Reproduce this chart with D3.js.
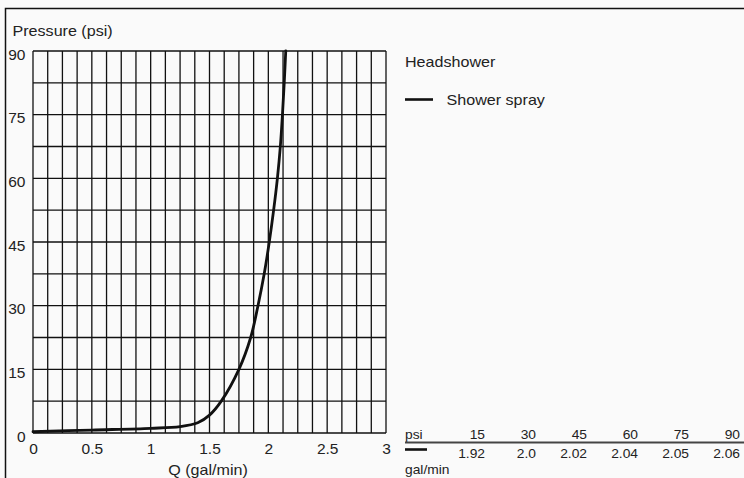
<!DOCTYPE html>
<html>
<head>
<meta charset="utf-8">
<script src="https://cdn.jsdelivr.net/npm/d3@7"></script>
<style>
  body { margin: 0; background: #fafafa; }
  svg { display: block; }
  text { font-family: "Liberation Sans", Arial, sans-serif; fill: #222; }
</style>
</head>
<body>
<svg id="chart" width="744" height="478"></svg>
<script>
// flow curve: Q (gal/min) vs pressure (psi)
const flowQ = [0, 0.5, 1.0, 1.25, 1.4, 1.5, 1.6, 1.75, 1.85, 1.912, 1.965, 2.008, 2.045, 2.077, 2.102, 2.12, 2.135, 2.148];
const flowP = [0.3, 0.7, 1.1, 1.5, 2.4, 4.2, 7.5, 15, 22.5, 30, 37.5, 45, 52.5, 60, 67.5, 75, 82.5, 90];

const xTicks = [0, 0.5, 1, 1.5, 2, 2.5, 3];
const xLabels = ["0", "0.5", "1", "1.5", "2", "2.5", "3"];
const yTicks = [0, 15, 30, 45, 60, 75, 90];

// table under the legend
const tablePsi = ["15", "30", "45", "60", "75", "90"];
const tableFlow = ["1.92", "2.0", "2.02", "2.04", "2.05", "2.06"];

const seriesName = "Shower spray";
const title = "Headshower";

const svg = d3.select("#chart");
const margin = { left: 33, top: 51, right: 386, bottom: 433 };

const x = d3.scaleLinear().domain([0, 3]).range([margin.left, margin.right]);
const y = d3.scaleLinear().domain([0, 90]).range([margin.bottom, margin.top]);

// text with a bit of horizontal stretch like the original
function label(g, txt, px, py, size, sx, anchor) {
    return g.append("text")
        .attr("transform", `translate(${px},${py}) scale(${sx},1)`)
        .attr("text-anchor", anchor || "start")
        .style("font-size", size + "px")
        .text(txt);
}

// outer frame
svg.append("rect")
    .attr("x", 5.5).attr("y", 8.5)
    .attr("width", 800).attr("height", 500)
    .attr("fill", "none")
    .attr("stroke", "#111")
    .attr("stroke-width", 1.5);

// grid
const grid = svg.append("g").attr("stroke", "#111").attr("stroke-width", 1.3);
grid.selectAll("line.v")
    .data(d3.range(0, 3 + 1e-9, 0.125))
    .join("line")
    .attr("x1", d => x(d)).attr("x2", d => x(d))
    .attr("y1", y(0)).attr("y2", y(90));
grid.selectAll("line.h")
    .data(d3.range(0, 90 + 1e-9, 7.5))
    .join("line")
    .attr("x1", x(0)).attr("x2", x(3))
    .attr("y1", d => y(d)).attr("y2", d => y(d));

// axes
let xAxis = g => g
    .attr("transform", `translate(0,${y(0)})`)
    .call(d3.axisBottom(x).tickValues(xTicks).tickFormat((d, i) => xLabels[i]).tickSize(0))
    .call(g => g.select(".domain").remove())
    .call(g => g.selectAll("text")
        .attr("dy", null).attr("y", 21)
        .attr("fill", "#222")
        .style("font-size", "15.5px")
        .style("font-family", "'Liberation Sans', Arial, sans-serif"));

let yAxis = g => g
    .attr("transform", "translate(25.5,0)")
    .call(d3.axisLeft(y).tickValues(yTicks).tickSize(0).tickPadding(0))
    .call(g => g.select(".domain").remove())
    .call(g => g.selectAll("text")
        .attr("dy", null).attr("y", 8)
        .attr("fill", "#222")
        .style("font-size", "15.5px")
        .style("font-family", "'Liberation Sans', Arial, sans-serif"));

svg.append("g").call(xAxis);
svg.append("g").call(yAxis);

// curve
const pts = flowQ.map((q, i) => [q, flowP[i]]);
const line = d3.line()
    .x(d => x(d[0]))
    .y(d => y(d[1]))
    .curve(d3.curveCatmullRom.alpha(0.5));

svg.append("path")
    .datum(pts)
    .attr("d", line)
    .attr("fill", "none")
    .attr("stroke", "#111")
    .attr("stroke-width", 2.8)
    .attr("stroke-linecap", "round");

// titles
const txt = svg.append("g");
label(txt, "Pressure (psi)", 12.5, 36, 14, 1.15);
label(txt, "Q (gal/min)", 208, 475, 14, 1.15, "middle");

// legend
label(txt, title, 405, 67, 14, 1.15);
svg.append("line")
    .attr("x1", 405).attr("x2", 433)
    .attr("y1", 99.5).attr("y2", 99.5)
    .attr("stroke", "#111").attr("stroke-width", 2.6);
label(txt, seriesName, 446.5, 105, 14, 1.15);

// table
const col = d3.scalePoint().domain(tablePsi).range([485, 740]);
label(txt, "psi", 405, 439, 12, 1.15);
svg.append("line")
    .attr("x1", 405).attr("x2", 744)
    .attr("y1", 442.5).attr("y2", 442.5)
    .attr("stroke", "#444").attr("stroke-width", 2);
tablePsi.forEach((p, i) => label(txt, p, col(p), 439, 12, 1.15, "end"));
svg.append("line")
    .attr("x1", 405).attr("x2", 427)
    .attr("y1", 449.5).attr("y2", 449.5)
    .attr("stroke", "#111").attr("stroke-width", 2.6);
tableFlow.forEach((f, i) => label(txt, f, col(tablePsi[i]), 457.5, 12, 1.15, "end"));
label(txt, "gal/min", 405, 473.5, 12, 1.15);
</script>
</body>
</html>
